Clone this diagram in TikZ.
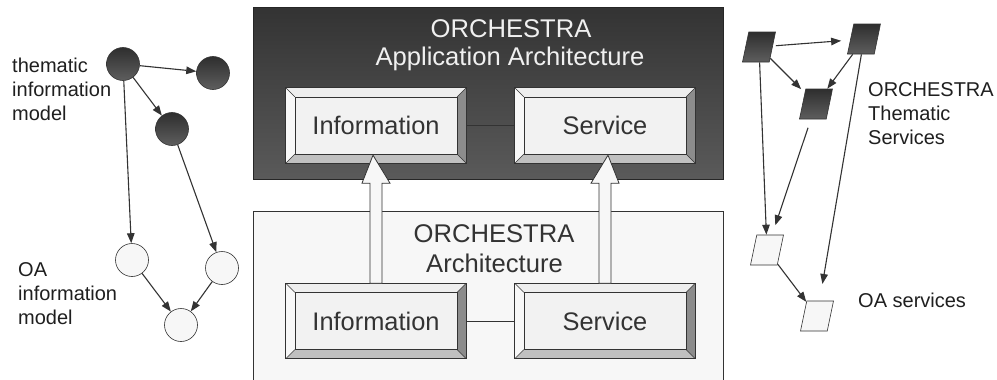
\documentclass[tikz,border=0pt]{standalone}
\usepackage{fontspec}
\setmainfont{Liberation Sans}
\usetikzlibrary{shapes.geometric,arrows.meta,calc}
\definecolor{ink}{HTML}{333333}
\definecolor{face}{HTML}{F2F2F2}
\definecolor{bevL}{HTML}{F8F8F8}
\definecolor{bevT}{HTML}{EEEEEE}
\definecolor{bevR}{HTML}{8C8C8C}
\definecolor{bevB}{HTML}{C0C0C0}
\definecolor{darktop}{HTML}{333333}
\definecolor{darkbot}{HTML}{5A5A5A}
\definecolor{paper}{HTML}{F7F7F7}
\definecolor{dtop}{HTML}{2E2E2E}
\definecolor{dbot}{HTML}{5E5E5E}
\tikzset{
  outerbox/.style={rectangle, minimum width=180pt, minimum height=75pt, inner sep=0pt, fill=face},
  boxtext/.style={font=\fontsize{25.4}{28}\selectfont, text=ink, inner sep=0pt},
  paneltitle/.style={font=\fontsize{25.6}{28}\selectfont, inner sep=0pt, anchor=base},
  sidelabel/.style={font=\fontsize{20}{24}\selectfont, text=black!88, align=left, inner sep=0pt, anchor=north west},
  darkpanel/.style={rectangle, draw=black!85, line width=0.8pt, top color=darktop, bottom color=darkbot, minimum width=470pt, minimum height=172pt, inner sep=0pt},
  lightpanel/.style={rectangle, draw=ink, line width=0.8pt, fill=paper, minimum width=470pt, minimum height=190pt, inner sep=0pt},
  dcirc/.style={circle, draw=ink, line width=0.6pt, top color=dtop, bottom color=dbot, minimum size=33pt, inner sep=0pt},
  lcirc/.style={circle, draw=ink, line width=0.6pt, fill=paper, minimum size=33pt, inner sep=0pt},
  para/.style={trapezium, trapezium left angle=73, trapezium right angle=107, trapezium stretches=true, minimum width=33pt, minimum height=30pt, inner sep=2pt, draw=ink, line width=0.6pt},
  dpara/.style={para, top color=dtop, bottom color=dbot},
  lpara/.style={para, fill=paper},
  conn/.style={draw=ink, line width=1.1pt, -{Triangle[length=10pt,width=7.5pt]}},
  blockarrow/.style={draw=ink, line width=0.8pt, fill=paper, line join=miter},
  link/.style={draw=ink, line width=0.8pt}
}
\newcommand{\bevelbox}[3]{%
  \node[outerbox] (#1) at (#2) {};
  \fill[bevT] (#1.north west) -- (#1.north east) -- ($(#1.north east)+(-9,9)$) -- ($(#1.north west)+(9,9)$) -- cycle;
  \fill[bevB] (#1.south west) -- (#1.south east) -- ($(#1.south east)+(-9,-9)$) -- ($(#1.south west)+(9,-9)$) -- cycle;
  \fill[bevL] (#1.north west) -- (#1.south west) -- ($(#1.south west)+(9,-9)$) -- ($(#1.north west)+(9,9)$) -- cycle;
  \fill[bevR] (#1.north east) -- (#1.south east) -- ($(#1.south east)+(-9,-9)$) -- ($(#1.north east)+(-9,9)$) -- cycle;
  \draw[ink, line width=0.8pt] (#1.north west) rectangle (#1.south east);
  \draw[ink, line width=0.6pt] ($(#1.north west)+(9,9)$) rectangle ($(#1.south east)+(-9,-9)$);
  \draw[ink, line width=0.6pt] (#1.north west) -- ++(9,9) (#1.north east) -- ++(-9,9)
     (#1.south west) -- ++(9,-9) (#1.south east) -- ++(-9,-9);
  \node[boxtext] (#1t) at (#1) {#3};
}
\begin{document}
\begin{tikzpicture}[x=1pt,y=-1pt]
\clip (0,0) rectangle (997,380);
\fill[white] (0,0) rectangle (997,380);

% panels
\node[darkpanel] (app) at (488,93) {};
\node[lightpanel] (arch) at (488,306) {};
\node[paneltitle, text=white!94!black] (appt1) at (511,37) {ORCHESTRA};
\node[paneltitle, text=white!94!black] (appt2) at (510,65) {Application Architecture};
\node[paneltitle, text=ink] (archt1) at (494,242) {ORCHESTRA};
\node[paneltitle, text=ink] (archt2) at (494.5,272) {Architecture};

% boxes
\bevelbox{infoA}{376,125.5}{Information}
\bevelbox{servA}{605,125.5}{Service}
\bevelbox{infoB}{376,321}{Information}
\bevelbox{servB}{605,321}{Service}
\draw[link] (infoA) -- (servA);
\draw[link] (infoB) -- (servB);

% block arrows
\draw[blockarrow] ($(infoB.north)+(-6,0)$) -- ($(infoA.south)+(-6,20)$) -- ($(infoA.south)+(-14,20)$)
  -- ($(infoA.south)+(-3,-8)$) -- ($(infoA.south)+(14,20)$) -- ($(infoA.south)+(6,20)$) -- ($(infoB.north)+(6,0)$) -- cycle;
\draw[blockarrow] ($(servB.north)+(-6,0)$) -- ($(servA.south)+(-6,20)$) -- ($(servA.south)+(-14,20)$)
  -- ($(servA.south)+(3,-8)$) -- ($(servA.south)+(14,20)$) -- ($(servA.south)+(6,20)$) -- ($(servB.north)+(6,0)$) -- cycle;

% left information model graph
\node[dcirc] (ca) at (123,64) {};
\node[dcirc] (cb) at (213,73) {};
\node[dcirc] (cc) at (172,129) {};
\node[lcirc] (cd) at (132,260) {};
\node[lcirc] (ce) at (222,268) {};
\node[lcirc] (cf) at (181,325) {};
\draw[conn] (ca) -- (cb);
\draw[conn] (ca) -- (cc);
\draw[conn] (ca) -- (cd);
\draw[conn] (cc) -- (ce);
\draw[conn] (cd) -- (cf);
\draw[conn] (ce) -- (cf);
\node[sidelabel] (lbl1) at (12,58) {thematic\\information\\model};
\node[sidelabel] (lbl2) at (18,262) {OA\\information\\model};

% right services graph
\node[dpara] (p1) at (759,47) {};
\node[dpara] (p2) at (864,39) {};
\node[dpara] (p3) at (816,104) {};
\node[lpara] (p4) at (767,250) {};
\node[lpara] (p5) at (817,316) {};
\draw[conn, shorten >=9pt, shorten <=3pt] (p1) -- (p2);
\draw[conn, shorten >=5pt] (p1) -- (p3);
\draw[conn] (p1) -- (p4);
\draw[conn] (p2) -- (p3);
\draw[conn, shorten >=17pt] (p2) -- (p5);
\draw[conn, shorten >=10pt, shorten <=9pt] (p3) -- (p4);
\draw[conn] (p4) -- (p5);
\node[sidelabel] (lbl3) at (868,82) {ORCHESTRA\\Thematic\\Services};
\node[sidelabel] (lbl4) at (858,293) {OA services};
\end{tikzpicture}
\end{document}
